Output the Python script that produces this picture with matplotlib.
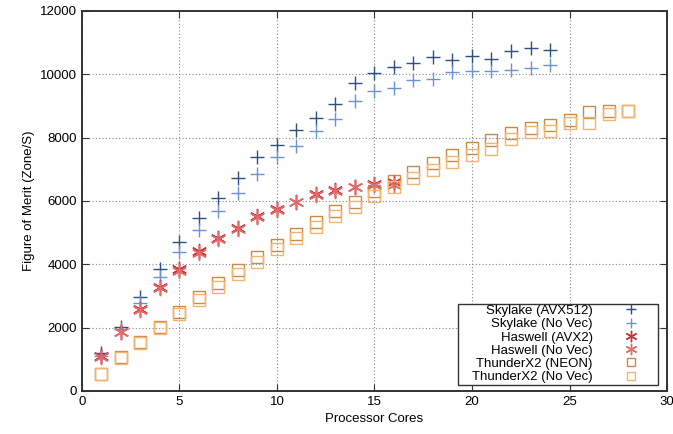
import matplotlib
matplotlib.use("Agg")
import matplotlib.pyplot as plt
from matplotlib.patches import Rectangle

# processor cores
sky_cores = list(range(1, 25))
has_cores = list(range(1, 17))
tx2_cores = list(range(1, 29))

# figure of merit (zone/s)
sky_avx512 = [1190, 2030, 2980, 3840, 4700, 5450, 6100, 6720, 7380, 7780,
              8250, 8620, 9060, 9710, 10040, 10220, 10370, 10560, 10450, 10580,
              10480, 10740, 10820, 10770]
sky_novec = [1100, 1950, 2770, 3590, 4400, 5080, 5690, 6260, 6860, 7380,
             7750, 8200, 8600, 9150, 9480, 9560, 9820, 9850, 10080, 10110,
             10100, 10130, 10190, 10300]
has_avx2 = [1105, 1875, 2590, 3275, 3840, 4420, 4820, 5140, 5530, 5740,
            5980, 6210, 6350, 6450, 6530, 6600]
has_novec = [1080, 1850, 2560, 3240, 3800, 4360, 4790, 5110, 5500, 5720,
             5960, 6190, 6330, 6430, 6500, 6520]
tx2_neon = [537, 1065, 1540, 2020, 2500, 2970, 3400, 3810, 4240, 4600,
            4960, 5340, 5690, 5980, 6330, 6640, 6915, 7190, 7450, 7660,
            7930, 8140, 8290, 8400, 8560, 8800, 8840, 8840]
tx2_novec = [530, 1050, 1530, 2000, 2430, 2860, 3290, 3700, 4080, 4480,
             4840, 5190, 5520, 5800, 6150, 6450, 6730, 6980, 7230, 7460,
             7630, 7960, 8170, 8220, 8450, 8460, 8760, 8840]

plt.rcParams['font.family'] = ['Liberation Sans', 'DejaVu Sans']

fig = plt.figure(figsize=(6.73, 4.34), dpi=100)
ax = fig.add_axes([0.1218, 0.0991, 0.8693, 0.8756])

ax.plot(sky_cores, sky_avx512, linestyle='none', marker='+', ms=10.5, mew=1.0,
        color='#2c4f86', label='Skylake (AVX512)')
ax.plot(sky_cores, sky_novec, linestyle='none', marker='+', ms=10.5, mew=1.0,
        color='#6a92d6', label='Skylake (No Vec)')
ax.plot(has_cores, has_avx2, linestyle='none', marker=(6, 2, 0), ms=11, mew=1.0,
        color='#c8323c', label='Haswell (AVX2)')
ax.plot(has_cores, has_novec, linestyle='none', marker=(6, 2, 0), ms=11, mew=1.0,
        color='#e46a6a', label='Haswell (No Vec)')
ax.plot(tx2_cores, tx2_neon, linestyle='none', marker='s', ms=8.5, mew=1.0,
        mfc='none', color='#c98a45', label='ThunderX2 (NEON)')
ax.plot(tx2_cores, tx2_novec, linestyle='none', marker='s', ms=8.5, mew=1.0,
        mfc='none', color='#f7b36e', label='ThunderX2 (No Vec)')

ax.set_xlim(0, 30)
ax.set_ylim(0, 12000)
ax.set_xticks(range(0, 31, 5))
ax.set_yticks(range(0, 12001, 2000))
ax.grid(True, linestyle=(0, (1, 2)), color='#888888', linewidth=0.8)
ax.tick_params(direction='in', top=True, right=True, length=5, labelsize=9.5,
               color='#333333')
for s in ax.spines.values():
    s.set_color('#333333')
    s.set_linewidth(1.4)

ax.set_xlabel('Processor Cores', fontsize=9.5)
ax.set_ylabel('Figure of Merit (Zone/S)', fontsize=9.5)

# gnuplot-style key: white box, labels right-aligned, samples on the right
ax.add_patch(Rectangle((0.6427, 0.0158), 0.3419, 0.2132, transform=ax.transAxes,
                       facecolor='white', edgecolor='#333333', linewidth=1.0,
                       zorder=4))
leg = ax.legend(loc='lower right', bbox_to_anchor=(0.9722, 0.02), borderaxespad=0,
                markerfirst=False, frameon=False, fontsize=9.5, labelspacing=0.08,
                handletextpad=1.4, borderpad=0, handlelength=3,
                markerscale=0.75)
leg.set_zorder(5)

fig.savefig('out.png', dpi=100)
